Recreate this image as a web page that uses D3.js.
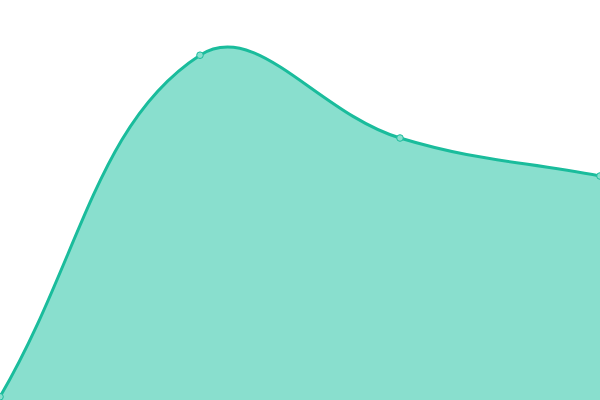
<!DOCTYPE html>
<html>
<head>
<meta charset="utf-8">
<script src="https://cdn.jsdelivr.net/npm/d3@7"></script>
<style>
  html, body { margin: 0; padding: 0; background: #fff; }
  svg { display: block; }
</style>
</head>
<body>
<div class="chart"></div>
<script>
// categories along x
const categories = ["A", "B", "C", "D"];
const values = [0.8, 86.2, 65.5, 56];

const width = 600;
const height = 400;
const tension = 0.4;

// spline with distance-weighted control points (tension 0.4), as a d3 curve
function TensionSpline(context, t) {
    this._context = context;
    this._t = t;
}
TensionSpline.prototype = {
    areaStart() { this._line = 0; },
    areaEnd() { this._line = NaN; },
    lineStart() { this._pts = []; },
    point(x, y) { this._pts.push([+x, +y]); },
    lineEnd() {
        const p = this._pts, n = p.length, c = this._context, t = this._t;
        const clampX = v => Math.max(0, Math.min(width, v));
        const clampY = v => Math.max(0, Math.min(height, v));
        if (n) {
            if (this._line) c.lineTo(p[0][0], p[0][1]);
            else c.moveTo(p[0][0], p[0][1]);
            const cp = p.map((cur, i) => {
                const prev = p[i - 1] || cur, next = p[i + 1] || cur;
                const d01 = Math.hypot(cur[0] - prev[0], cur[1] - prev[1]);
                const d12 = Math.hypot(next[0] - cur[0], next[1] - cur[1]);
                let s01 = d01 / (d01 + d12), s12 = d12 / (d01 + d12);
                if (isNaN(s01)) s01 = 0;
                if (isNaN(s12)) s12 = 0;
                const fa = t * s01, fb = t * s12;
                const dx = next[0] - prev[0], dy = next[1] - prev[1];
                return {
                    px: clampX(cur[0] - fa * dx), py: clampY(cur[1] - fa * dy),
                    nx: clampX(cur[0] + fb * dx), ny: clampY(cur[1] + fb * dy)
                };
            });
            for (let i = 1; i < n; i++) {
                c.bezierCurveTo(cp[i - 1].nx, cp[i - 1].ny, cp[i].px, cp[i].py, p[i][0], p[i][1]);
            }
        }
        if (this._line || (this._line !== 0 && n === 1)) c.closePath();
        this._line = 1 - this._line;
    }
};
const curve = context => new TensionSpline(context, tension);

const svg = d3.select(".chart").append("svg")
    .attr("width", width)
    .attr("height", height);

const x = d3.scalePoint()
    .domain(categories)
    .range([0, width]);

const y = d3.scaleLinear()
    .domain([0, 100])
    .range([height, 0]);

const data = categories.map((c, i) => ({ cat: c, value: values[i] }));

const area = d3.area()
    .curve(curve)
    .x(d => x(d.cat))
    .y0(height)
    .y1(d => y(d.value));

const line = d3.line()
    .curve(curve)
    .x(d => x(d.cat))
    .y(d => y(d.value));

svg.append("path")
    .datum(data)
    .attr("fill", "#89dfce")
    .attr("d", area);

svg.append("path")
    .datum(data)
    .attr("fill", "none")
    .attr("stroke", "#1abc9c")
    .attr("stroke-width", 3)
    .attr("d", line);

svg.selectAll("circle")
    .data(data)
    .enter()
    .append("circle")
    .attr("cx", d => x(d.cat))
    .attr("cy", d => y(d.value))
    .attr("r", 3.3)
    .attr("fill", "#89dfce")
    .attr("stroke", "#1abc9c")
    .attr("stroke-width", 1);
</script>
</body>
</html>
